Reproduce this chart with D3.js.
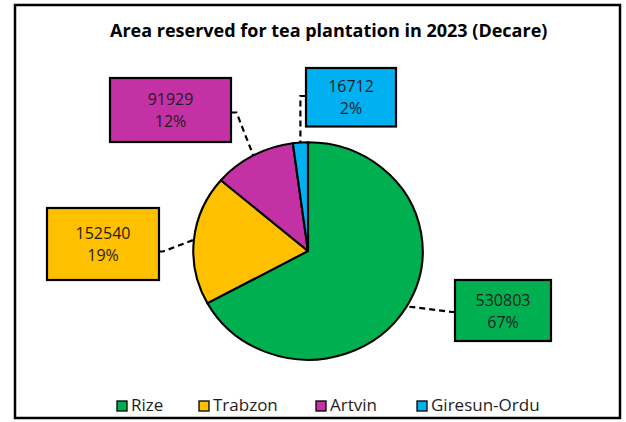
<!DOCTYPE html>
<html>
<head>
<meta charset="utf-8">
<script src="https://cdn.jsdelivr.net/npm/d3@7"></script>
<style>
  body { margin: 0; background: #fff; }
  text { font-family: "Open Sans", "Noto Sans", sans-serif; }
</style>
</head>
<body>
<script>
  // data
  const categories = ['Rize', 'Trabzon', 'Artvin', 'Giresun-Ordu'];
  const values = [530803, 152540, 91929, 16712];
  const colors = ['#00B050', '#FFC000', '#C431A4', '#00B0F0'];
  const title = 'Area reserved for tea plantation in 2023 (Decare)';

  const width = 626, height = 422;
  const cx = 308, cy = 251;
  const ry = 108.7, rx = 114.7;   // the picture is a bit wider than tall

  // label boxes (layout only): box rect, attach point on the box, stub end x
  const boxes = [
    {x: 455, y: 280, w: 96, h: 61, ax: 455, ay: 312, sx: 452},
    {x: 47, y: 208, w: 112, h: 72, ax: 159, ay: 251.5, sx: 163},
    {x: 110, y: 78, w: 121, h: 64, ax: 231, ay: 112.5, sx: 236.5},
    {x: 306, y: 68, w: 90, h: 58.5, ax: 306, ay: 96, sx: null}
  ];
  const legendX = [117, 199, 316, 417];

  const svg = d3.select('body').append('svg')
    .attr('width', width)
    .attr('height', height);

  svg.append('rect')
    .attr('x', 0).attr('y', 0).attr('width', width).attr('height', height)
    .attr('fill', '#fff');

  // outer frame
  svg.append('rect')
    .attr('x', 15).attr('y', 5)
    .attr('width', 605).attr('height', 413)
    .attr('fill', 'none')
    .attr('stroke', '#000')
    .attr('stroke-width', 2.5);

  const t = svg.append('text')
    .attr('x', 328.7).attr('y', 36.5)
    .attr('text-anchor', 'middle')
    .attr('font-size', 18)
    .attr('font-weight', 'bold')
    .attr('fill', '#000')
    .text(title);
  if (t.node().getComputedTextLength() > 443) {
    t.attr('textLength', 443).attr('lengthAdjust', 'spacingAndGlyphs');
  }

  const data = categories.map((c, i) => ({name: c, value: values[i], color: colors[i]}));
  const total = d3.sum(values);
  const pct = d3.format('.0%');

  const pie = d3.pie().sort(null).value(d => d.value);
  const arcs = pie(data);
  const arc = d3.arc().innerRadius(0).outerRadius(ry);

  // leader lines (drawn first so slices sit on top)
  const leaders = svg.append('g');
  arcs.forEach((a, i) => {
    const mid = (a.startAngle + a.endAngle) / 2;
    const px = cx + rx * Math.sin(mid);
    const py = cy - ry * Math.cos(mid);
    const b = boxes[i];
    const sx = b.sx === null ? px : b.sx;
    leaders.append('path')
      .attr('d', d3.line()([[b.ax, b.ay], [sx, b.ay], [px, py]]))
      .attr('fill', 'none')
      .attr('stroke', '#000')
      .attr('stroke-width', 2.2)
      .attr('stroke-dasharray', '6,4');
  });

  const g = svg.append('g')
    .attr('transform', `translate(${cx},${cy}) scale(${rx / ry},1)`);

  g.selectAll('path').data(arcs).enter().append('path')
    .attr('d', arc)
    .attr('fill', d => d.data.color)
    .attr('stroke', '#000')
    .attr('stroke-width', 2)
    .attr('stroke-linejoin', 'round');

  // data label boxes
  const lab = svg.append('g').selectAll('g').data(arcs).enter().append('g');
  lab.append('rect')
    .attr('x', (d, i) => boxes[i].x)
    .attr('y', (d, i) => boxes[i].y)
    .attr('width', (d, i) => boxes[i].w)
    .attr('height', (d, i) => boxes[i].h)
    .attr('fill', d => d.data.color)
    .attr('stroke', '#000')
    .attr('stroke-width', 2.2);
  const labX = (d, i) => boxes[i].x + boxes[i].w / 2;
  lab.append('text')
    .attr('x', labX)
    .attr('y', (d, i) => boxes[i].y + boxes[i].h / 2 - 5)
    .attr('text-anchor', 'middle')
    .attr('font-size', 16)
    .attr('fill', '#1e1e1e')
    .text(d => d.data.value);
  lab.append('text')
    .attr('x', labX)
    .attr('y', (d, i) => boxes[i].y + boxes[i].h / 2 + 17.2)
    .attr('text-anchor', 'middle')
    .attr('font-size', 16)
    .attr('fill', '#1e1e1e')
    .text(d => pct(d.data.value / total));

  // legend
  const leg = svg.append('g').selectAll('g').data(data).enter().append('g')
    .attr('transform', (d, i) => `translate(${legendX[i]},0)`);
  leg.append('rect')
    .attr('x', 0).attr('y', 401)
    .attr('width', 10).attr('height', 10)
    .attr('fill', d => d.color)
    .attr('stroke', '#000')
    .attr('stroke-width', 1.3);
  leg.append('text')
    .attr('x', 14).attr('y', 411)
    .attr('font-size', 17)
    .attr('fill', '#1e1e1e')
    .text(d => d.name);
</script>
</body>
</html>
